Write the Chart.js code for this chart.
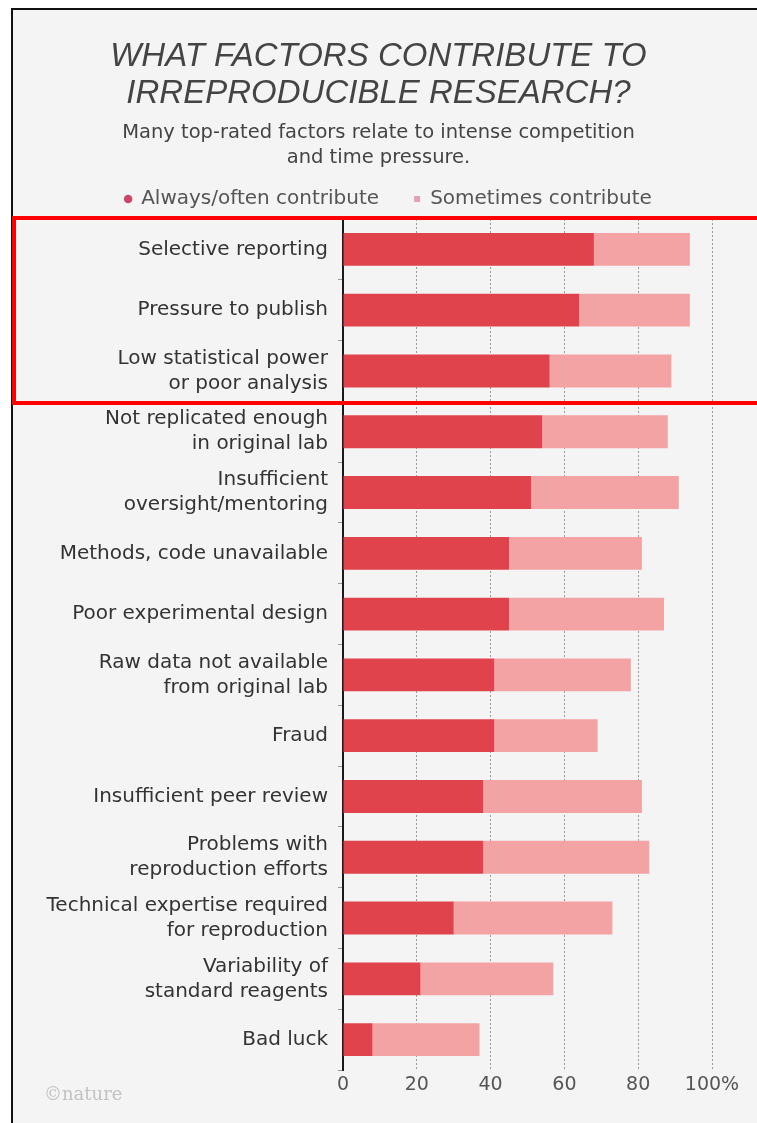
<!DOCTYPE html>
<html>
<head>
<meta charset="utf-8">
<script src="https://cdn.jsdelivr.net/npm/chart.js@4"></script>
<style>
body { margin:0; background:#fff; overflow:hidden; width:757px; height:1123px; position:relative; }
#frame { position:absolute; left:11px; top:8px; width:800px; height:1200px; border-left:2px solid #111; border-top:2px solid #111; background:#f4f4f4; }
#chart { position:absolute; left:0; top:0; }
#highlight { position:absolute; left:12px; top:216px; width:800px; height:189px; border:4px solid #ff0000; box-sizing:border-box; }
#logo { position:absolute; left:44px; top:1083px; font:18px "DejaVu Serif"; color:#c2c2c2; }
</style>
</head>
<body>
<div id="frame"></div>
<canvas id="chart" width="757" height="1123"></canvas>
<div id="logo">©nature</div>
<div id="highlight"></div>
<script>
// factors, top to bottom
var factors = [
    "Selective reporting",
    "Pressure to publish",
    ["Low statistical power", "or poor analysis"],
    ["Not replicated enough", "in original lab"],
    ["Insufficient", "oversight/mentoring"],
    "Methods, code unavailable",
    "Poor experimental design",
    ["Raw data not available", "from original lab"],
    "Fraud",
    "Insufficient peer review",
    ["Problems with", "reproduction efforts"],
    ["Technical expertise required", "for reproduction"],
    ["Variability of", "standard reagents"],
    "Bad luck"
];

// % of respondents
var alwaysOften = [68, 64, 56, 54, 51, 45, 45, 41, 41, 38, 38, 30, 21, 8];
var sometimes   = [26, 30, 33, 34, 40, 36, 42, 37, 28, 43, 45, 43, 36, 29];

var xTicks = [0, 20, 40, 60, 80, 100];

var seriesNames = ["Always/often contribute", "Sometimes contribute"];

var textFont = "DejaVu Sans";

// legend sits a bit right of centre in the original
var legendNudge = {
    id: "legendNudge",
    afterLayout: function (c) {
        c.legend.left += 10;
        c.legend.right += 10;
    }
};

var ctx = document.getElementById("chart").getContext("2d");

var chart = new Chart(ctx, {
    type: "bar",
    data: {
        labels: factors,
        datasets: [
            {
                label: seriesNames[0],
                data: alwaysOften,
                backgroundColor: "#e0434b"
            },
            {
                label: seriesNames[1],
                data: sometimes,
                backgroundColor: "#f3a3a3"
            }
        ]
    },
    plugins: [legendNudge],
    options: {
        indexAxis: "y",
        responsive: false,
        animation: false,
        datasets: {
            bar: { barPercentage: 0.54, categoryPercentage: 1 }
        },
        layout: { padding: 0 },
        plugins: {
            tooltip: { enabled: false },
            title: {
                display: true,
                text: ["WHAT FACTORS CONTRIBUTE TO", "IRREPRODUCIBLE RESEARCH?"],
                color: "#444",
                font: { family: "Liberation Sans", size: 33, weight: "normal", style: "italic", lineHeight: 37 / 33 },
                padding: { top: 38, bottom: 8 }
            },
            subtitle: {
                display: true,
                text: ["Many top-rated factors relate to intense competition", "and time pressure."],
                color: "#444",
                font: { family: textFont, size: 19.5, lineHeight: 25 / 19.5 },
                padding: { top: 0, bottom: -16 }
            },
            legend: {
                display: true,
                labels: {
                    usePointStyle: true,
                    boxWidth: 6,
                    boxHeight: 6,
                    padding: 35,
                    color: "#555",
                    font: { family: textFont, size: 20 },
                    generateLabels: function (c) {
                        var marks = [["#c9486a", "circle"], ["#e3a2b4", "rect"]];
                        return seriesNames.map(function (name, i) {
                            return {
                                text: name,
                                fillStyle: marks[i][0],
                                strokeStyle: marks[i][0],
                                fontColor: "#555",
                                lineWidth: 0,
                                pointStyle: marks[i][1],
                                datasetIndex: i,
                                hidden: false
                            };
                        });
                    }
                }
            }
        },
        scales: {
            x: {
                stacked: true,
                min: 0,
                max: 100,
                afterBuildTicks: function (scale) {
                    scale.ticks = xTicks.map(function (v) { return { value: v }; });
                },
                afterFit: function (scale) { scale.height = 53; },
                ticks: {
                    color: "#555",
                    padding: 4,
                    font: { family: textFont, size: 19 },
                    callback: function (v) { return v === 100 ? "100%" : v; }
                },
                grid: {
                    drawTicks: false,
                    color: function (c) { return c.tick && c.tick.value === 0 ? "rgba(0,0,0,0)" : "#9a9a9a"; },
                    lineWidth: 1
                },
                border: { display: false, dash: [2, 2] }
            },
            y: {
                stacked: true,
                afterFit: function (scale) { scale.width = 343; },
                ticks: {
                    color: "#333",
                    padding: 10,
                    font: { family: textFont, size: 20, lineHeight: 25 / 20 }
                },
                grid: {
                    drawOnChartArea: false,
                    tickLength: 5,
                    color: "#999",
                    offset: true
                },
                border: { display: true, color: "#1a1a1a", width: 2 }
            },
            yRight: {
                type: "category",
                position: "right",
                afterFit: function (scale) { scale.width = 45; },
                ticks: { display: false },
                grid: { display: false },
                border: { display: false }
            }
        }
    }
});
</script>
</body>
</html>
